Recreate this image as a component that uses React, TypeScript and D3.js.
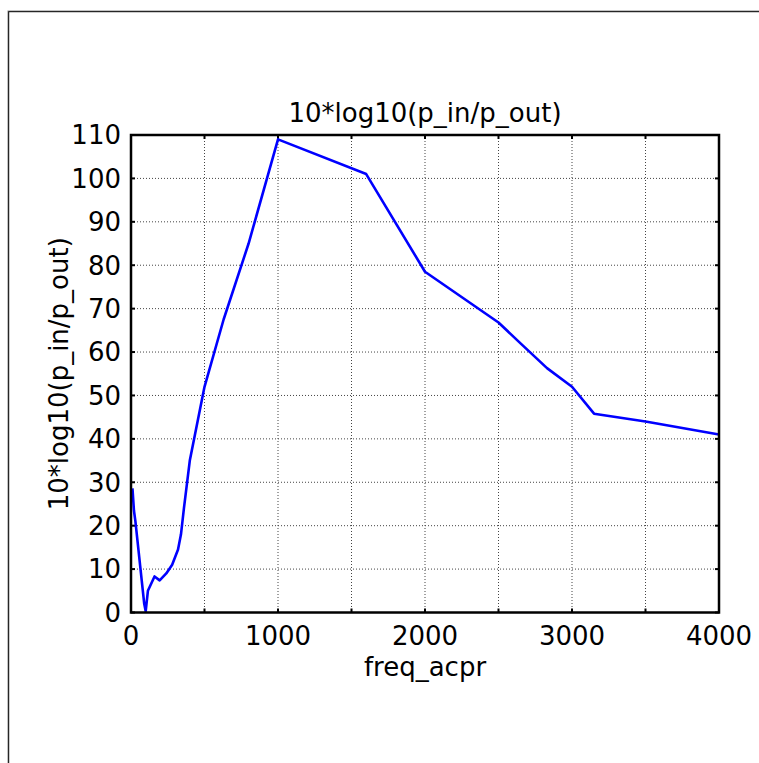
import React from 'react';
import { scaleLinear, line } from 'd3';

// frequency (x) and 10*log10(p_in/p_out) (y)
const freqAcpr = [10, 20, 30, 90, 100, 115, 160, 195, 240, 280, 320, 340, 360, 400, 500, 630, 800, 1000, 1600, 2000, 2500, 2650, 2830, 3000, 3150, 3500, 4000];
const ratioDb = [28.6, 23.5, 21, 2, 0.3, 5, 8.3, 7.4, 9, 11, 14.5, 18, 24, 35, 52, 67.5, 85, 109, 101, 78.5, 66.8, 62, 56.3, 52, 45.8, 44, 41];

const xTicks = [0, 500, 1000, 1500, 2000, 2500, 3000, 3500, 4000];
const xTickLabels = ['0', '', '1000', '', '2000', '', '3000', '', '4000'];
const yTicks = [0, 10, 20, 30, 40, 50, 60, 70, 80, 90, 100, 110];

const title = '10*log10(p_in/p_out)';
const xTitle = 'freq_acpr';
const yTitle = '10*log10(p_in/p_out)';

const W = 759;
const H = 763;
const plot = { left: 131, right: 719, top: 135, bottom: 612.5 };
const font = '"DejaVu Sans", Verdana, sans-serif';

const App = () => {
    const x = scaleLinear().domain([0, 4000]).range([plot.left, plot.right]);
    const y = scaleLinear().domain([0, 110]).range([plot.bottom, plot.top]);

    const path = line<number>()
        .x((d, i) => x(freqAcpr[i]))
        .y(d => y(d))(ratioDb);

    const cx = (plot.left + plot.right) / 2;
    const cy = (plot.top + plot.bottom) / 2;

    return (
        <svg width={W} height={H} style={{ position: 'absolute', left: 0, top: 0, background: '#fff' }}>
            <rect x={8} y={11} width={W + 40} height={H + 40} fill="#fff" stroke="#888" strokeWidth={1} />
            <rect x={8.7} y={11.7} width={W + 40} height={H + 40} fill="none" stroke="#000" strokeWidth={1} />

            {/* grid */}
            {xTicks.slice(1, -1).map(t => (
                <line key={'gx' + t} x1={x(t)} x2={x(t)} y1={plot.top} y2={plot.bottom}
                    stroke="#444" strokeWidth={1} strokeDasharray="1,2" />
            ))}
            {yTicks.slice(1, -1).map(t => (
                <line key={'gy' + t} x1={plot.left} x2={plot.right} y1={y(t)} y2={y(t)}
                    stroke="#444" strokeWidth={1} strokeDasharray="1,2" />
            ))}

            {/* inner ticks on all sides */}
            {xTicks.map(t => (
                <g key={'tx' + t}>
                    <line x1={x(t)} x2={x(t)} y1={plot.bottom} y2={plot.bottom - 4} stroke="#000" strokeWidth={2} />
                    <line x1={x(t)} x2={x(t)} y1={plot.top} y2={plot.top + 4} stroke="#000" strokeWidth={2} />
                </g>
            ))}
            {yTicks.map(t => (
                <g key={'ty' + t}>
                    <line x1={plot.left} x2={plot.left + 4} y1={y(t)} y2={y(t)} stroke="#000" strokeWidth={2} />
                    <line x1={plot.right} x2={plot.right - 4} y1={y(t)} y2={y(t)} stroke="#000" strokeWidth={2} />
                </g>
            ))}

            <path d={path ?? ''} fill="none" stroke="#0000ff" strokeWidth={2.6} strokeLinejoin="round" />

            <rect x={plot.left} y={plot.top} width={plot.right - plot.left} height={plot.bottom - plot.top}
                fill="none" stroke="#000" strokeWidth={2.5} />

            {/* tick labels */}
            <g fontFamily={font} fontSize={26} fill="#000">
                {xTicks.map((t, i) => (
                    <text key={'lx' + t} x={x(t)} y={645} textAnchor="middle">{xTickLabels[i]}</text>
                ))}
                {yTicks.map(t => (
                    <text key={'ly' + t} x={121} y={y(t)} dy="0.36em" textAnchor="end">{t}</text>
                ))}
                <text x={cx} y={122} textAnchor="middle">{title}</text>
                <text x={cx} y={676} textAnchor="middle">{xTitle}</text>
                <text transform={`translate(68,${cy}) rotate(-90)`} textAnchor="middle">{yTitle}</text>
            </g>
        </svg>
    );
};

export default App;
